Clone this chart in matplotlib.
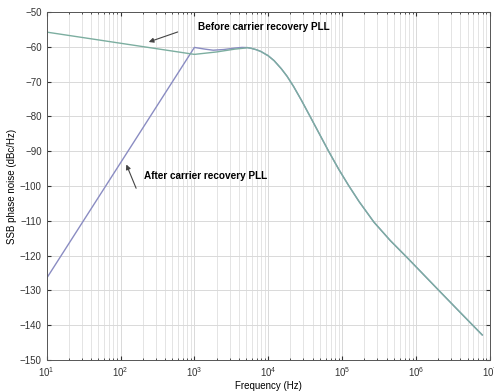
import matplotlib
matplotlib.use("Agg")
import matplotlib.pyplot as plt
import numpy as np

plt.rcParams['font.family'] = ['Liberation Sans', 'DejaVu Sans']

# shared roll-off above ~5 kHz
freq_tail = [5200, 6000, 7000, 8000, 1e4, 1.2e4, 1.5e4, 1.8e4, 2.2e4, 2.8e4, 3.66e4,
             5e4, 6.6e4, 9e4, 1.22e5, 1.7e5, 2.7e5, 4.5e5, 7.7e5, 1.3e6, 2.15e6,
             4.5e6, 7.9e6]
pn_tail = [-60.25, -60.5, -60.9, -61.4, -62.6, -64.0, -66.3, -68.5, -71.4, -75.3, -79.9,
           -85.3, -90.1, -95.2, -99.8, -104.5, -110.4, -115.7, -120.7, -125.7, -130.5,
           -137.5, -142.8]

# after carrier recovery PLL
freq_after = [10, 1000, 1400, 1800, 2500, 3500, 4400] + freq_tail
pn_after = [-126.5, -60.2, -60.7, -61.0, -60.8, -60.4, -60.2] + pn_tail

# before carrier recovery PLL
freq_before = [10, 1000, 2000, 3500, 5000] + freq_tail
pn_before = [-55.8, -62.2, -61.5, -60.7, -60.35] + pn_tail

fig = plt.figure(figsize=(4.94, 3.92), dpi=100)
ax = fig.add_axes([0.0945, 0.0816, 0.897, 0.888])

ax.semilogx(freq_after, pn_after, color='#8a8cc2', lw=1.0)
ax.semilogx(freq_before, pn_before, color='#7caea0', lw=1.0)

ax.set_xlim(10, 1e7)
ax.set_ylim(-150, -50)
ax.set_yticks(np.arange(-150, -49, 10))

ax.grid(True, which='major', color='#d9d9d9', lw=0.7)
ax.grid(True, which='minor', color='#dfdfdf', lw=0.6)
ax.tick_params(which='both', direction='in', top=True, right=True, labelsize=7, colors='#333333')
ax.tick_params(which='major', length=3)
ax.tick_params(which='minor', length=1.5)
for s in ax.spines.values():
    s.set_color('#555555')
    s.set_linewidth(0.7)

ax.set_xlabel('Frequency (Hz)', fontsize=7, labelpad=2)
ax.set_ylabel('SSB phase noise (dBc/Hz)', fontsize=7, labelpad=2)

ax.text(1130, -54.3, 'Before carrier recovery PLL', fontsize=7.2, fontweight='bold', va='center')
ax.text(209, -97.1, 'After carrier recovery PLL', fontsize=7.2, fontweight='bold', va='center')
ax.annotate('', xy=(222, -58.9), xytext=(645, -55.5),
            arrowprops=dict(arrowstyle='-|>', color='#444444', lw=0.8, mutation_scale=7))
ax.annotate('', xy=(116, -93.1), xytext=(168, -101.4),
            arrowprops=dict(arrowstyle='-|>', color='#444444', lw=0.8, mutation_scale=7))

fig.savefig('out.png', dpi=100)
